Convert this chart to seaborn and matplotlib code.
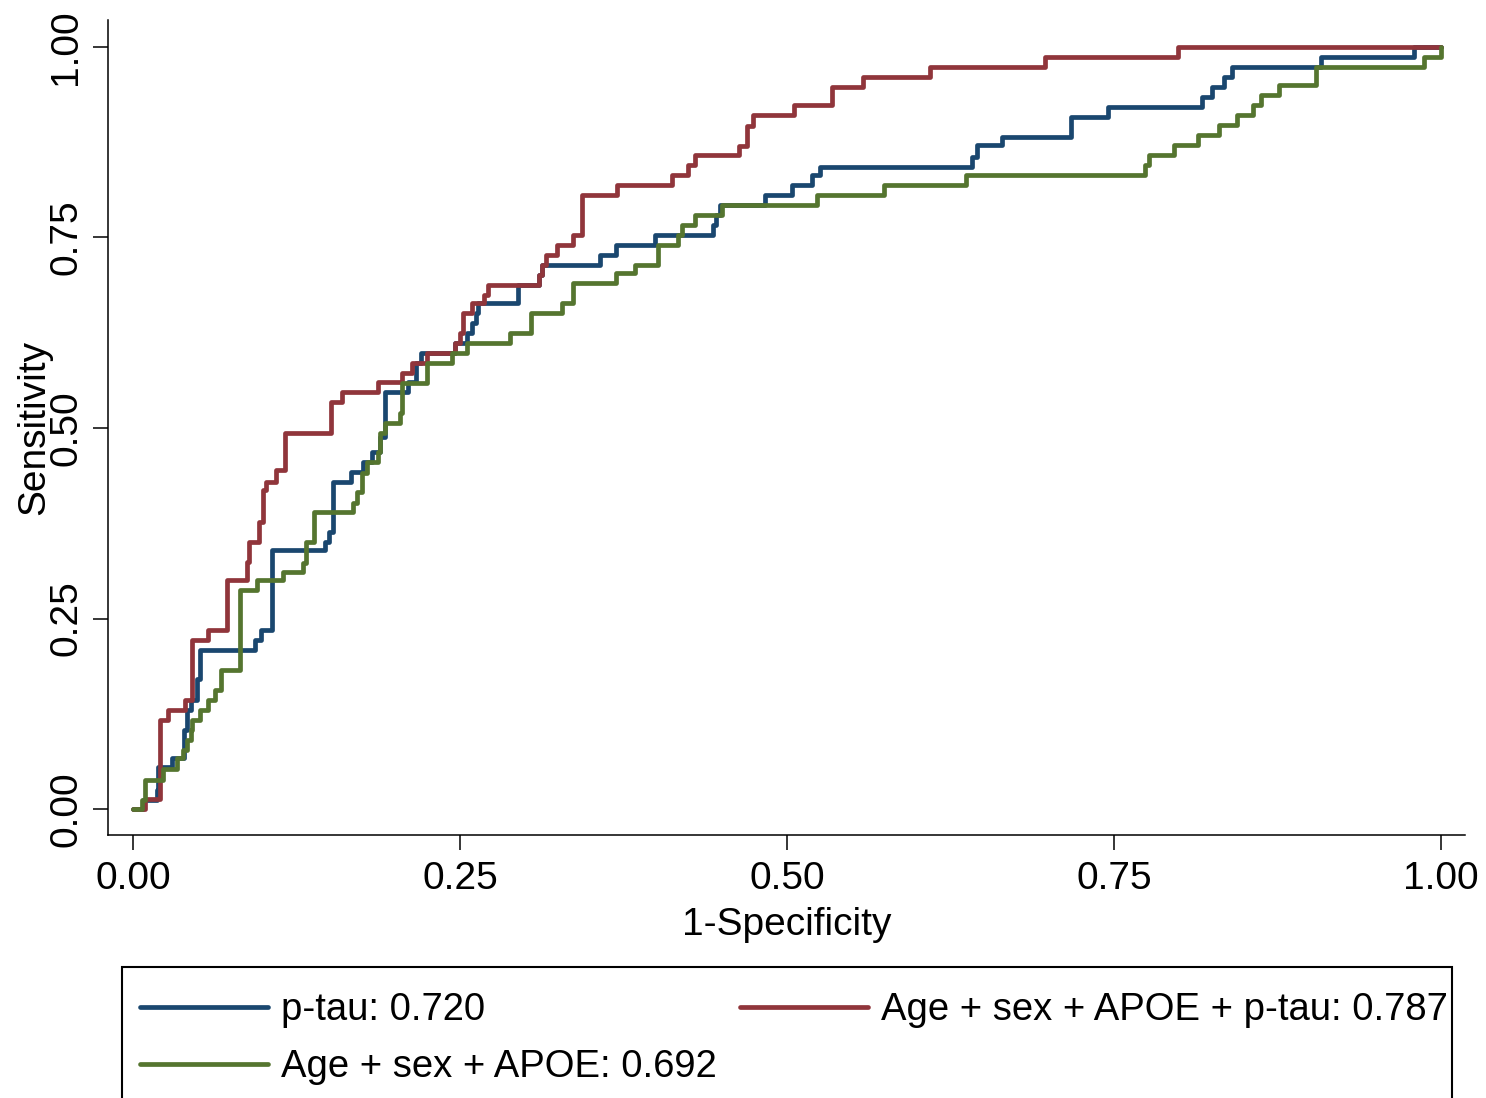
import matplotlib
matplotlib.use("Agg")
import matplotlib.pyplot as plt
from matplotlib.patches import Rectangle
import seaborn as sns
import pandas as pd

# ROC curves (1-specificity, sensitivity)
fpr_ptau = [0, 0.008, 0.018, 0.019, 0.030, 0.039, 0.041, 0.044, 0.049, 0.051,
            0.093, 0.098, 0.106, 0.147, 0.150, 0.153, 0.167, 0.176, 0.183, 0.189,
            0.193, 0.210, 0.216, 0.220, 0.246, 0.255, 0.259, 0.262, 0.264, 0.294,
            0.310, 0.313, 0.357, 0.369, 0.399, 0.443, 0.446, 0.449, 0.483, 0.504,
            0.519, 0.525, 0.641, 0.645, 0.664, 0.717, 0.745, 0.817, 0.825, 0.834,
            0.840, 0.908, 0.979, 1.0]
tpr_ptau = [0, 0.012, 0.025, 0.055, 0.067, 0.104, 0.130, 0.143, 0.170, 0.209,
            0.222, 0.235, 0.340, 0.350, 0.363, 0.429, 0.442, 0.455, 0.469, 0.488,
            0.547, 0.560, 0.585, 0.598, 0.612, 0.625, 0.638, 0.651, 0.664, 0.688,
            0.701, 0.714, 0.727, 0.740, 0.753, 0.766, 0.780, 0.793, 0.806, 0.819,
            0.832, 0.843, 0.856, 0.871, 0.882, 0.908, 0.921, 0.934, 0.947, 0.961,
            0.974, 0.987, 1.0, 1.0]

fpr_full = [0, 0.009, 0.021, 0.027, 0.040, 0.045, 0.057, 0.072, 0.087, 0.089,
            0.096, 0.099, 0.102, 0.109, 0.116, 0.151, 0.160, 0.187, 0.206, 0.213,
            0.225, 0.246, 0.250, 0.252, 0.259, 0.268, 0.271, 0.310, 0.313, 0.316,
            0.324, 0.336, 0.343, 0.370, 0.412, 0.424, 0.430, 0.463, 0.469, 0.474,
            0.505, 0.534, 0.558, 0.609, 0.697, 0.799, 1.0]
tpr_full = [0, 0.013, 0.117, 0.130, 0.143, 0.222, 0.235, 0.300, 0.324, 0.350,
            0.377, 0.419, 0.429, 0.445, 0.493, 0.534, 0.547, 0.560, 0.572, 0.585,
            0.598, 0.612, 0.625, 0.651, 0.664, 0.675, 0.688, 0.701, 0.714, 0.727,
            0.740, 0.753, 0.806, 0.819, 0.832, 0.845, 0.858, 0.870, 0.896, 0.911,
            0.924, 0.947, 0.961, 0.974, 0.987, 1.0, 1.0]

fpr_base = [0, 0.007, 0.009, 0.023, 0.034, 0.038, 0.041, 0.044, 0.045, 0.051,
            0.057, 0.063, 0.067, 0.082, 0.095, 0.115, 0.130, 0.132, 0.138, 0.168,
            0.171, 0.175, 0.179, 0.187, 0.189, 0.193, 0.204, 0.206, 0.225, 0.244,
            0.255, 0.288, 0.304, 0.328, 0.336, 0.369, 0.384, 0.401, 0.417, 0.420,
            0.430, 0.450, 0.523, 0.574, 0.637, 0.774, 0.777, 0.796, 0.814, 0.830,
            0.844, 0.856, 0.862, 0.876, 0.904, 0.987, 1.0]
tpr_base = [0, 0.012, 0.038, 0.053, 0.067, 0.077, 0.091, 0.104, 0.117, 0.130,
            0.143, 0.156, 0.182, 0.287, 0.300, 0.311, 0.323, 0.350, 0.390, 0.402,
            0.416, 0.441, 0.455, 0.469, 0.493, 0.507, 0.520, 0.559, 0.585, 0.598,
            0.612, 0.625, 0.651, 0.664, 0.690, 0.703, 0.714, 0.740, 0.753, 0.766,
            0.780, 0.793, 0.806, 0.819, 0.832, 0.845, 0.858, 0.871, 0.884, 0.898,
            0.911, 0.924, 0.937, 0.950, 0.974, 0.987, 1.0]

labels = ["p-tau: 0.720", "Age + sex + APOE: 0.692", "Age + sex + APOE + p-tau: 0.787"]
colors = ["#1a476f", "#55752f", "#90353b"]
tick_labels = ["0.00", "0.25", "0.50", "0.75", "1.00"]

sns.set_style("ticks")
plt.rcParams["font.family"] = ["Liberation Sans", "DejaVu Sans"]
plt.rcParams["text.color"] = "black"
plt.rcParams["axes.labelcolor"] = "black"
plt.rcParams["xtick.color"] = "black"
plt.rcParams["ytick.color"] = "black"

fig = plt.figure(figsize=(14.86, 10.98), dpi=100)
ax = fig.add_axes([0.0727, 0.2395, 0.9132, 0.7423])

curves = {
    labels[0]: (fpr_ptau, tpr_ptau, colors[0]),
    labels[2]: (fpr_full, tpr_full, colors[2]),
    labels[1]: (fpr_base, tpr_base, colors[1]),
}
handles = {}
for lab, (fx, ty, col) in curves.items():
    d = pd.DataFrame({"fpr": fx, "tpr": ty})
    sns.lineplot(data=d, x="fpr", y="tpr", ax=ax, color=col, lw=3.4,
                 drawstyle="steps-post", estimator=None, sort=False)
    handles[lab] = ax.get_lines()[-1]

ax.set_xlim(-0.0191, 1.0183)
ax.set_ylim(-0.0341, 1.0354)
ticks = [0, 0.25, 0.5, 0.75, 1.0]
ax.set_xticks(ticks)
ax.set_xticklabels(tick_labels, fontsize=28)
ax.set_yticks(ticks)
ax.set_yticklabels(tick_labels, fontsize=28, rotation=90, va="center")
ax.tick_params(axis="both", length=11, width=1.1, color="black", labelcolor="black")
ax.tick_params(axis="x", pad=7.5)
ax.tick_params(axis="y", pad=6)

for s in ["top", "right"]:
    ax.spines[s].set_visible(False)
for s in ["left", "bottom"]:
    ax.spines[s].set_linewidth(1.1)
    ax.spines[s].set_color("black")

ax.set_xlabel("1-Specificity", fontsize=28)
ax.set_ylabel("Sensitivity", fontsize=28)
ax.xaxis.set_label_coords(0.5, -0.0883)
ax.yaxis.set_label_coords(-0.0413, 0.5)

# legend box runs off the bottom edge, as in the original
fig.add_artist(Rectangle((122 / 1486, -0.05), 1330 / 1486, 1 - 967 / 1098 + 0.05,
                         transform=fig.transFigure, fill=False,
                         edgecolor="black", lw=1.5))
leg = fig.legend([handles[l] for l in labels], labels,
                 loc="upper left", ncol=2, frameon=False,
                 bbox_to_anchor=(140 / 1486, 1 - 992 / 1098),
                 bbox_transform=fig.transFigure, borderaxespad=0, borderpad=0,
                 fontsize=27.5, handlelength=3.35, handletextpad=0.35,
                 columnspacing=0.6, labelspacing=0.55)

fig.savefig("out.png", dpi=100)
